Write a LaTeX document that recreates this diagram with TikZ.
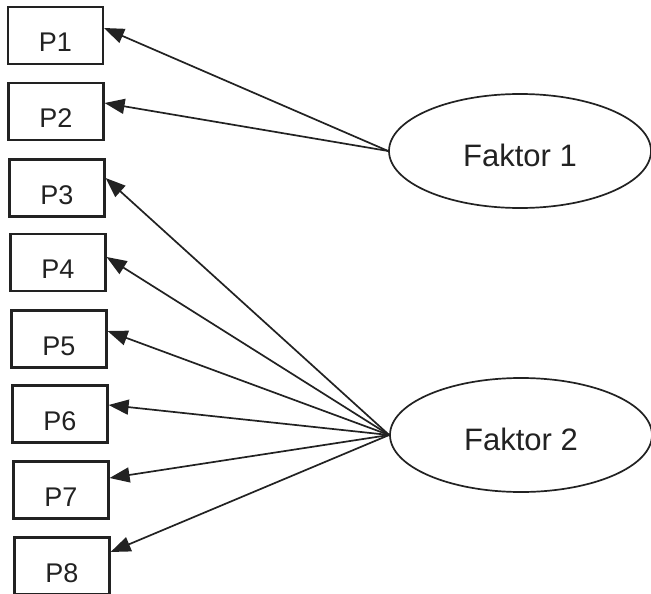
\documentclass[tikz,border=0pt]{standalone}
\usepackage{fontspec}
\setmainfont{Liberation Sans}
\usetikzlibrary{arrows.meta,shapes.geometric}
\definecolor{ink}{HTML}{222222}
\begin{document}
\begin{tikzpicture}[x=1pt,y=-1pt,
  pbox/.style={draw=ink,line width=2.2pt,minimum width=95pt,minimum height=57pt,inner sep=0pt,
    font=\fontsize{27}{27}\selectfont,text=ink,text height=32pt,text depth=0pt},
  faktor/.style={draw=ink,line width=1.7pt,ellipse,minimum width=262pt,minimum height=114pt,inner sep=0pt,
    font=\fontsize{31}{31}\selectfont,text=ink,text height=30pt,text depth=0pt},
  conn/.style={draw=ink,line width=1.7pt,-{Triangle[length=20pt,width=15pt]}}]
\clip (0,0) rectangle (651,594);
\fill[white] (0,0) rectangle (651,594);
\node[pbox] (P1) at (55.5,35.5) {P1};
\node[pbox] (P2) at (56,111.5) {P2};
\node[pbox] (P3) at (57,188) {P3};
\node[pbox] (P4) at (58,262.5) {P4};
\node[pbox] (P5) at (59,339) {P5};
\node[pbox] (P6) at (60,414) {P6};
\node[pbox] (P7) at (61,490) {P7};
\node[pbox] (P8) at (62,566) {P8};
\node[faktor] (F1) at (520,151) {Faktor 1};
\node[faktor] (F2) at (521,435) {Faktor 2};
\draw[conn] (F1.west) -- ([yshift=7.5pt]P1.east);
\draw[conn] (F1.west) -- ([yshift=8.5pt]P2.east);
\draw[conn] (F2.west) -- ([yshift=10pt]P3.east);
\draw[conn] (F2.west) -- ([yshift=5.5pt]P4.east);
\draw[conn] (F2.west) -- ([yshift=8pt]P5.east);
\draw[conn] (F2.west) -- ([yshift=9pt]P6.east);
\draw[conn] (F2.west) -- ([yshift=12pt]P7.east);
\draw[conn] (F2.west) -- ([yshift=14pt]P8.east);
\end{tikzpicture}
\end{document}
